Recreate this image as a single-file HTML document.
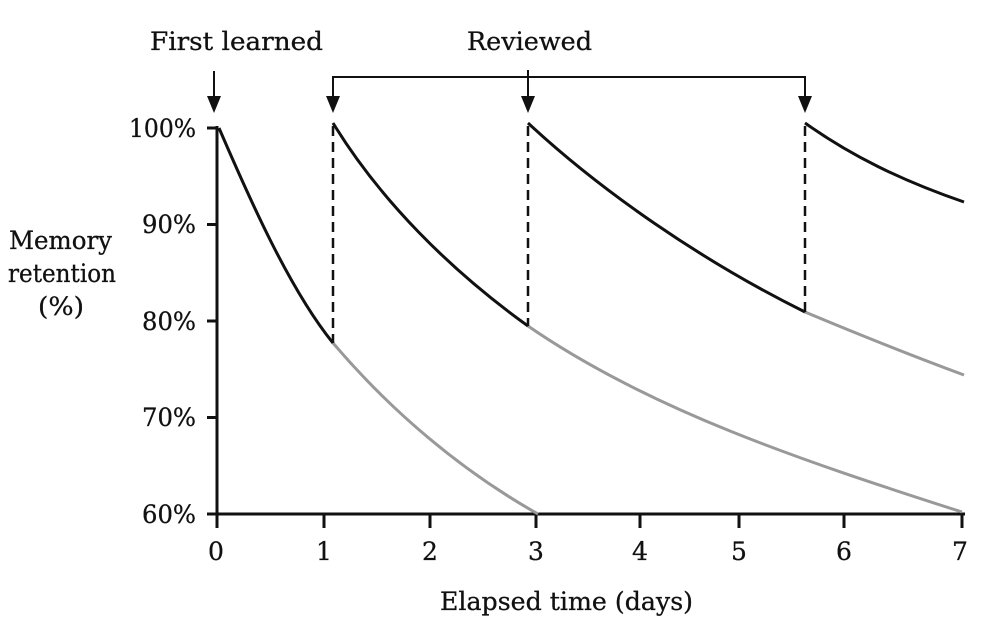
<!DOCTYPE html>
<html><head><style>body{margin:0;background:#fff}</style></head><body>
<svg width="982" height="624" xmlns="http://www.w3.org/2000/svg" font-family="DejaVu Serif, Liberation Serif, serif" fill="#111">
<rect width="982" height="624" fill="#fff"/>
<g stroke="#111" stroke-width="3" fill="none">
<line x1="217" y1="126" x2="217" y2="516"/>
<line x1="217" y1="514" x2="965" y2="514"/>
<line x1="207" y1="128" x2="217" y2="128"/>
<line x1="207" y1="224.5" x2="217" y2="224.5"/>
<line x1="207" y1="321" x2="217" y2="321"/>
<line x1="207" y1="417.5" x2="217" y2="417.5"/>
<line x1="207" y1="514" x2="217" y2="514"/>
<line x1="217" y1="514" x2="217" y2="528"/>
<line x1="324" y1="514" x2="324" y2="528"/>
<line x1="430" y1="514" x2="430" y2="528"/>
<line x1="536" y1="514" x2="536" y2="528"/>
<line x1="640" y1="514" x2="640" y2="528"/>
<line x1="739" y1="514" x2="739" y2="528"/>
<line x1="844" y1="514" x2="844" y2="528"/>
<line x1="962" y1="514" x2="962" y2="528"/>
</g>
<g stroke="#999" stroke-width="3" fill="none">
<path d="M333,343 C390,410 460,470 538,514"/>
<path d="M528,326 C650,410 800,460 962,512"/>
<path d="M805,312 C860,335 910,355 964,375"/>
</g>
<g stroke="#111" stroke-width="3" fill="none">
<path d="M219,128 C250,200 290,290 333,343"/>
<path d="M333,123 C380,200 450,270 528,326"/>
<path d="M528,123 C600,190 700,260 805,312"/>
<path d="M805,123 C850,155 900,180 964,202"/>
</g>
<g stroke="#111" stroke-width="2.5" stroke-dasharray="10,6" fill="none">
<line x1="333" y1="126" x2="333" y2="343"/>
<line x1="528" y1="126" x2="528" y2="326"/>
<line x1="805" y1="126" x2="805" y2="312"/>
</g>
<g stroke="#111" stroke-width="2" fill="none">
<line x1="214" y1="71" x2="214" y2="100"/>
<polyline points="333,100 333,77 805,77 805,100"/>
<line x1="528" y1="70" x2="528" y2="100"/>
</g>
<g fill="#111">
<polygon points="207,96 221,96 214,113"/>
<polygon points="326,96 340,96 333,113"/>
<polygon points="521,96 535,96 528,113"/>
<polygon points="798,96 812,96 805,113"/>
</g>
<g font-size="25" stroke="#111" stroke-width="0.3">
<text x="150" y="50" textLength="173" lengthAdjust="spacingAndGlyphs">First learned</text>
<text x="467" y="50" textLength="125" lengthAdjust="spacingAndGlyphs">Reviewed</text>
<text x="129" y="137" textLength="67" lengthAdjust="spacingAndGlyphs">100%</text>
<text x="142" y="233" textLength="54" lengthAdjust="spacingAndGlyphs">90%</text>
<text x="142" y="330" textLength="54" lengthAdjust="spacingAndGlyphs">80%</text>
<text x="142" y="426" textLength="54" lengthAdjust="spacingAndGlyphs">70%</text>
<text x="142" y="523" textLength="54" lengthAdjust="spacingAndGlyphs">60%</text>
<text x="440" y="610" textLength="253" lengthAdjust="spacingAndGlyphs">Elapsed time (days)</text>
<text x="9" y="249" textLength="103" lengthAdjust="spacingAndGlyphs">Memory</text>
<text x="8" y="282" textLength="108" lengthAdjust="spacingAndGlyphs">retention</text>
<text x="38" y="315" textLength="46" lengthAdjust="spacingAndGlyphs">(%)</text>
</g>
<g font-size="25" text-anchor="middle" stroke="#111" stroke-width="0.3">
<text x="216" y="560">0</text>
<text x="324" y="560">1</text>
<text x="430" y="560">2</text>
<text x="536" y="560">3</text>
<text x="640" y="560">4</text>
<text x="739" y="560">5</text>
<text x="844" y="560">6</text>
<text x="960" y="560">7</text>
</g>
</svg>
</body></html>
